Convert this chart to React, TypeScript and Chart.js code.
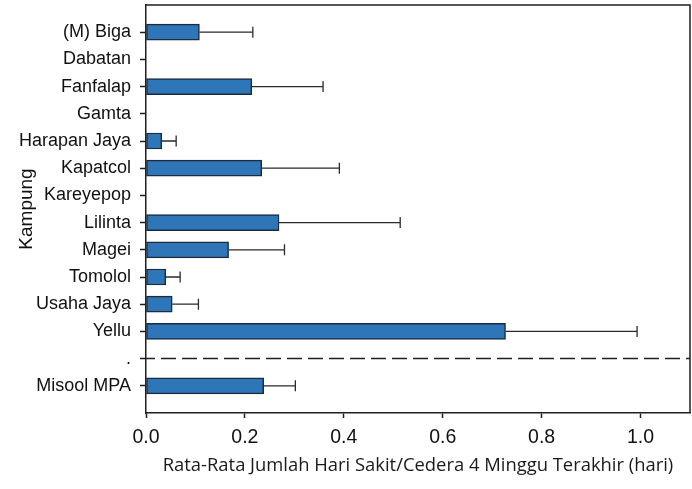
import React, { useEffect, useRef } from "react";
import { Chart, registerables } from "chart.js";

Chart.register(...registerables);

const categories = [
  "(M) Biga",
  "Dabatan",
  "Fanfalap",
  "Gamta",
  "Harapan Jaya",
  "Kapatcol",
  "Kareyepop",
  "Lilinta",
  "Magei",
  "Tomolol",
  "Usaha Jaya",
  "Yellu",
  ".",
  "Misool MPA",
];
const meanDays = [0.108, null, 0.214, null, 0.032, 0.234, null, 0.269, 0.167, 0.04, 0.053, 0.727, null, 0.238];
const errDays = [0.108, null, 0.144, null, 0.029, 0.157, null, 0.245, 0.113, 0.029, 0.053, 0.266, null, 0.064];
const xTicks = [0, 0.2, 0.4, 0.6, 0.8, 1.0];
const separatorLabel = ".";
const xTitle = "Rata-Rata Jumlah Hari Sakit/Cedera 4 Minggu Terakhir (hari)";
const yTitle = "Kampung";

const labels = ["", ...categories, ""];
const values = [null, ...meanDays, null];
const errors = [null, ...errDays, null];

const AXIS_COLOR = "#1f1f1f";
const SANS = "'Liberation Sans', Arial, sans-serif";

const overlayPlugin = {
  id: "overlay",
  afterDatasetsDraw(chart: any) {
    const { ctx, chartArea, scales } = chart;
    const xs = scales.x;
    const ys = scales.y;
    ctx.save();
    ctx.strokeStyle = "#2a2a2a";
    ctx.lineWidth = 1.3;
    values.forEach((v, i) => {
      const e = errors[i];
      if (v == null || e == null) return;
      const y = ys.getPixelForValue(i);
      const x0 = xs.getPixelForValue(v);
      const x1 = xs.getPixelForValue(v + e);
      ctx.beginPath();
      ctx.moveTo(x0, y);
      ctx.lineTo(x1, y);
      ctx.moveTo(x1, y - 5.5);
      ctx.lineTo(x1, y + 5.5);
      ctx.stroke();
    });
    const si = labels.indexOf(separatorLabel);
    const sy = ys.getPixelForValue(si);
    ctx.strokeStyle = AXIS_COLOR;
    ctx.lineWidth = 1.5;
    ctx.setLineDash([15, 6]);
    ctx.beginPath();
    ctx.moveTo(chartArea.left - 6, sy);
    ctx.lineTo(chartArea.right, sy);
    ctx.stroke();
    ctx.setLineDash([]);
    ctx.beginPath();
    ctx.moveTo(chartArea.left, chartArea.top);
    ctx.lineTo(chartArea.right, chartArea.top);
    ctx.lineTo(chartArea.right, chartArea.bottom);
    ctx.stroke();
    ctx.restore();
  },
};

export default function App() {
  const ref = useRef<HTMLCanvasElement | null>(null);
  useEffect(() => {
    document.body.style.margin = "0";
    const canvas = ref.current;
    if (!canvas) return;
    const chart = new Chart(canvas, {
      type: "bar",
      data: {
        labels,
        datasets: [
          {
            data: values as any,
            backgroundColor: "#2e76b8",
            borderColor: "#1b2c3f",
            borderWidth: 1.5,
            borderSkipped: false,
            barThickness: 16,
          },
        ],
      },
      options: {
        indexAxis: "y",
        animation: false,
        responsive: false,
        maintainAspectRatio: false,
        layout: { padding: { top: 5, right: 2, left: 0, bottom: 0 } },
        plugins: {
          legend: { display: false },
          tooltip: { enabled: false },
        },
        scales: {
          x: {
            type: "linear",
            min: 0,
            max: 1.1,
            afterFit(scale: any) {
              scale.height = 76;
              scale.paddingLeft = 0;
              scale.paddingRight = 0;
            },
            afterBuildTicks(scale: any) {
              scale.ticks = xTicks.map((v) => ({ value: v }));
            },
            ticks: {
              includeBounds: false,
              color: "#111",
              font: { family: SANS, size: 19.5 },
              padding: 8,
              callback: (v: any) => Number(v).toFixed(1),
            },
            grid: {
              drawOnChartArea: false,
              drawTicks: true,
              tickLength: 5,
              tickWidth: 1.5,
              tickColor: AXIS_COLOR,
            },
            border: { display: true, color: AXIS_COLOR, width: 1.5 },
            title: {
              display: true,
              text: xTitle,
              color: "#1a1a1a",
              font: { family: "'Open Sans', sans-serif", size: 18.4 },
              padding: { top: 0, bottom: 12 },
            },
          },
          y: {
            type: "category",
            offset: false,
            afterFit(scale: any) {
              scale.width = 146;
              scale.paddingTop = 0;
              scale.paddingBottom = 0;
            },
            ticks: {
              autoSkip: false,
              color: "#111",
              font: { family: SANS, size: 18 },
              padding: 9,
            },
            grid: {
              offset: false,
              drawOnChartArea: false,
              drawTicks: true,
              tickLength: 6,
              tickWidth: 1.5,
              tickColor: (c: any) => {
                const l = labels[c.index];
                return l === "" || l === separatorLabel ? "rgba(0,0,0,0)" : AXIS_COLOR;
              },
            },
            border: { display: true, color: AXIS_COLOR, width: 1.5 },
            title: {
              display: true,
              text: yTitle,
              color: "#111",
              font: { family: SANS, size: 19 },
              padding: { top: 15, bottom: 0 },
            },
          },
        },
      },
      plugins: [overlayPlugin],
    });
    return () => chart.destroy();
  }, []);
  return (
    <div style={{ position: "fixed", left: 0, top: 0, width: 692, height: 489, background: "#fff" }}>
      <canvas ref={ref} width={692} height={489} style={{ width: 692, height: 489 }} />
    </div>
  );
}
